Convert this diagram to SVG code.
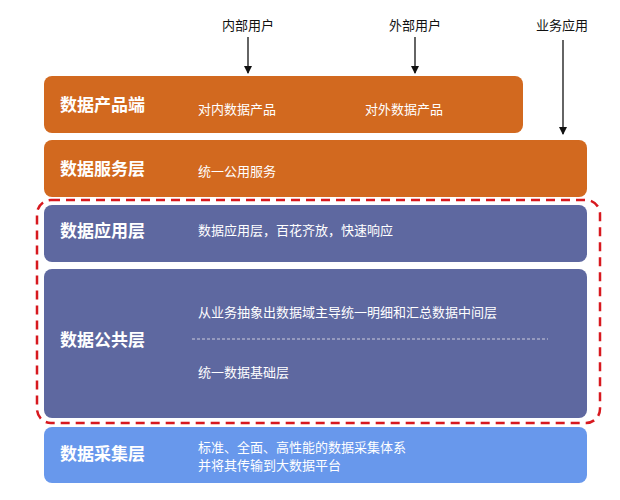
<svg xmlns="http://www.w3.org/2000/svg" width="620" height="500" viewBox="0 0 620 500">
<style>
.t{font-family:"Noto Sans CJK SC",sans-serif;fill:#fff;font-size:13px}
.h{font-family:"Noto Sans CJK SC",sans-serif;fill:#fff;font-size:17px;font-weight:bold}
.u{font-family:"Noto Sans CJK SC",sans-serif;fill:#111;font-size:13px;text-anchor:middle}
.o{fill:#D2691F}.p{fill:#5E68A0}.b{fill:#6898EC}
</style>
<defs><marker id="a" markerWidth="8" markerHeight="8" refX="7" refY="4" orient="auto" markerUnits="userSpaceOnUse"><path d="M0,0L8,4L0,8z" fill="#111"/></marker></defs>
<rect width="620" height="500" fill="#fff"/>
<g id="product"><rect class="o" x="44" y="76" width="479" height="57" rx="8"/><text class="h" x="60" y="111">数据产品端</text><text class="t" x="198" y="114">对内数据产品</text><text class="t" x="365" y="114">对外数据产品</text></g>
<g id="service"><rect class="o" x="44" y="140" width="543" height="57" rx="8"/><text class="h" x="60" y="175">数据服务层</text><text class="t" x="198" y="176">统一公用服务</text></g>
<g id="app"><rect class="p" x="44" y="205" width="543" height="57" rx="8"/><text class="h" x="60" y="237">数据应用层</text><text class="t" x="198" y="235">数据应用层，百花齐放，快速响应</text></g>
<g id="public"><rect class="p" x="44" y="269" width="543" height="149" rx="8"/><text class="h" x="60" y="346">数据公共层</text><text class="t" x="198" y="317">从业务抽象出数据域主导统一明细和汇总数据中间层</text><line x1="192" y1="339" x2="548" y2="339" stroke="#ccd" stroke-dasharray="3,2"/><text class="t" x="198" y="377">统一数据基础层</text></g>
<g id="collect"><rect class="b" x="44" y="427" width="543" height="56" rx="8"/><text class="h" x="60" y="460">数据采集层</text><text class="t" x="198" y="452">标准、全面、高性能的数据采集体系</text><text class="t" x="198" y="470">并将其传输到大数据平台</text></g>
<g id="frame"><rect x="37" y="200" width="563" height="223" rx="14" fill="none" stroke="#D7191F" stroke-width="2.5" stroke-dasharray="9,6"/></g>
<g id="users"><text class="u" x="248" y="30">内部用户</text><text class="u" x="415" y="30">外部用户</text><text class="u" x="562" y="30">业务应用</text></g>
<g id="connectors" stroke="#111" stroke-width="1.3" marker-end="url(#a)"><line x1="248" y1="37" x2="248" y2="73"/><line x1="415" y1="37" x2="415" y2="73"/><line x1="563" y1="40" x2="563" y2="134"/></g>
</svg>
